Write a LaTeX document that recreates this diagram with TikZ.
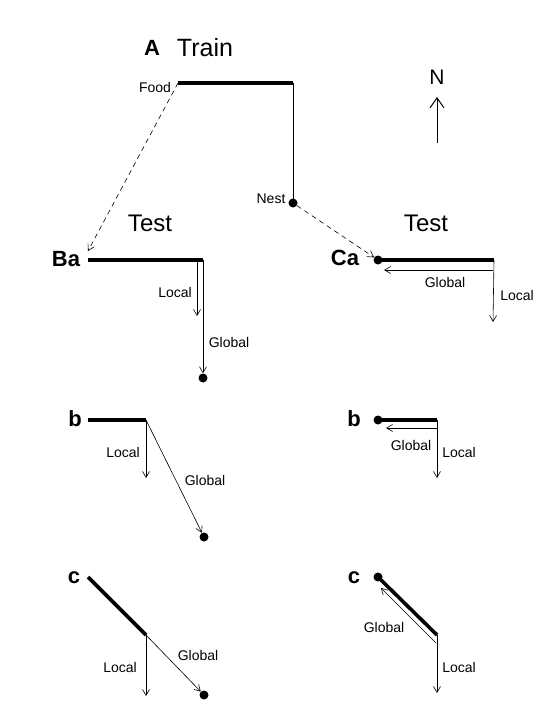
\documentclass[tikz,border=0pt]{standalone}
\usepackage{fontspec}
\setmainfont{Liberation Sans}
\usetikzlibrary{arrows.meta}

\begin{document}
\begin{tikzpicture}[x=1pt,y=-1pt,
	route/.style={line width=3.6pt},
	track/.style={line width=0.6pt},
	vec/.style={line width=0.6pt,-{Straight Barb[length=6pt,width=7pt]}},
	lbl/.style={font=\fontsize{14}{14}\selectfont,inner sep=1pt},
	big/.style={font=\fontsize{24}{24}\selectfont},
	panel/.style={font=\fontsize{22}{22}\selectfont\bfseries},
	dot/.style={circle,fill,inner sep=0pt,minimum size=9pt}]
	\useasboundingbox (0,0) rectangle (557,718);
	% training run
	\node[panel] (A) at (152,48) {A};
	\node[big,font=\fontsize{25}{25}\selectfont] (train) at (205,48) {Train};
	\coordinate (food) at (178,83);
	\coordinate (turn) at (293,83);
	\node[dot] (nest) at (293,203) {};
	\draw[route] (food) -- (turn);
	\draw[track] (turn) -- (nest.center);
	\node[lbl] (foodl) at (155,87) {Food};
	\node[lbl] (nestl) at (271,199) {Nest};
	\node[big,font=\fontsize{21}{21}\selectfont] (north) at (437,77) {N};
	\coordinate (n0) at (437,143);
	\coordinate (n1) at (437,97);
	\draw[line width=1pt,-{Straight Barb[length=10pt,width=14pt]}] (n0) -- (n1);
	\node[big] (testB) at (150,223) {Test};
	\node[big] (testC) at (426,223) {Test};
	% test Ba
	\node[panel] (Ba) at (66,259) {Ba};
	\coordinate (ba0) at (88,260);
	\coordinate (ba1) at (203,260);
	\coordinate (baL0) at (197,260);
	\coordinate (baL1) at (197,316);
	\node[dot] (bahome) at (203,378) {};
	\draw[route] (ba0) -- (ba1);
	\draw[vec] (baL0) -- (baL1);
	\draw[vec] (ba1) -- (bahome);
	\node[lbl] (baloc) at (175,292) {Local};
	\node[lbl] (baglo) at (229,342) {Global};
	\coordinate (batip) at (88,251);
	\draw[vec,dashed,dash pattern=on 5pt off 4pt] (food) -- (batip);
	% test Ca
	\node[panel] (Ca) at (345,258) {Ca};
	\node[dot] (cadot) at (378,260) {};
	\coordinate (ca1) at (494,260);
	\coordinate (caG0) at (493,270);
	\coordinate (caG1) at (384,270);
	\coordinate (caL1) at (493,322);
	\draw[route] (cadot.center) -- (ca1);
	\draw[vec] (caG0) -- (caG1);
	\draw[vec] (ca1) -- (caL1);
	\node[lbl] (caglo) at (445,282) {Global};
	\node[lbl] (caloc) at (517,295) {Local};
	\draw[vec,dashed,dash pattern=on 5pt off 4pt] (nest) -- (cadot);
	% test b
	\node[panel] (bB) at (75,419) {b};
	\coordinate (bb0) at (88,420);
	\coordinate (bb1) at (146,420);
	\coordinate (bbL1) at (146,478);
	\node[dot] (bbhome) at (204,537) {};
	\draw[route] (bb0) -- (bb1);
	\draw[vec] (bb1) -- (bbL1);
	\draw[vec] (bb1) -- (bbhome);
	\node[lbl] (bbloc) at (123,452) {Local};
	\node[lbl] (bbglo) at (205,480) {Global};
	\node[panel] (bC) at (354,419) {b};
	\node[dot] (bcdot) at (378,420) {};
	\coordinate (bc1) at (437,420);
	\coordinate (bcG0) at (437,428);
	\coordinate (bcG1) at (386,428);
	\coordinate (bcL1) at (437,478);
	\draw[route] (bcdot.center) -- (bc1);
	\draw[vec] (bcG0) -- (bcG1);
	\draw[vec] (bc1) -- (bcL1);
	\node[lbl] (bcglo) at (411,445) {Global};
	\node[lbl] (bcloc) at (459,452) {Local};
	% test c
	\node[panel] (cB) at (74,578) {c};
	\coordinate (cb0) at (88,577);
	\coordinate (cb1) at (146,635);
	\coordinate (cbL1) at (146,696);
	\node[dot] (cbhome) at (204,695) {};
	\draw[route] (cb0) -- (cb1);
	\draw[vec] (cb1) -- (cbL1);
	\draw[vec] (cb1) -- (cbhome);
	\node[lbl] (cbloc) at (120,667) {Local};
	\node[lbl] (cbglo) at (198,655) {Global};
	\node[panel] (cC) at (354,578) {c};
	\node[dot] (ccdot) at (378,577) {};
	\coordinate (cc1) at (437,635);
	\coordinate (ccG0) at (436,643);
	\coordinate (ccG1) at (381,588);
	\coordinate (ccL1) at (437,693);
	\draw[route] (ccdot.center) -- (cc1);
	\draw[vec] (ccG0) -- (ccG1);
	\draw[vec] (cc1) -- (ccL1);
	\node[lbl] (ccglo) at (384,627) {Global};
	\node[lbl] (ccloc) at (459,667) {Local};
\end{tikzpicture}
\end{document}
